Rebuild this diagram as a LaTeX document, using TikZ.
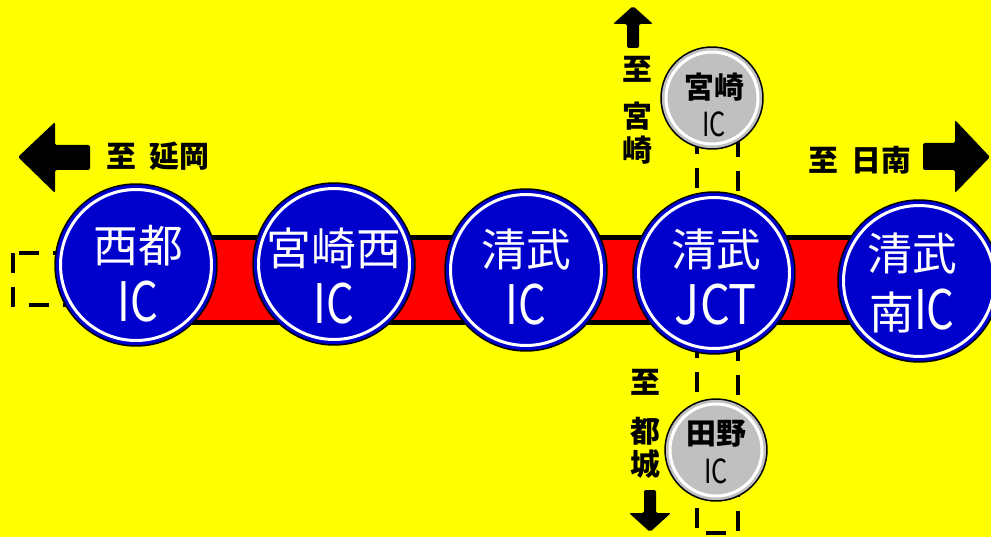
\documentclass[tikz,border=0pt]{standalone}
\usepackage{fontspec}
\setmainfont{Noto Sans CJK JP}
\usetikzlibrary{calc}
\definecolor{signblue}{HTML}{0000CC}
\definecolor{signgray}{HTML}{C0C0C0}
\definecolor{groundyellow}{HTML}{FFFF00}
\newcommand\latin[2][0.8]{{\fontsize{31}{32}\selectfont\scalebox{#1}[1]{#2}}}
\newcommand\latinsmall[1]{{\mdseries\fontsize{18}{20}\selectfont\scalebox{0.8}[1.05]{#1}}}
\tikzstyle{icsign} = [circle, minimum size=3.24cm, inner sep=0pt, fill=signblue, draw=black, line width=0.03cm, path picture={\draw[white, line width=0.06cm] (path picture bounding box.center) circle (1.51cm);}]
\tikzstyle{subsign} = [circle, minimum size=2.04cm, inner sep=0pt, fill=signgray, draw=black, line width=0.03cm, path picture={\draw[white, line width=0.06cm] (path picture bounding box.center) circle (0.92cm);}]
\tikzstyle{icname} = [text=white, align=center, inner sep=0pt, font=\fontsize{25.5}{33.5}\selectfont]
\tikzstyle{subname} = [text=black, align=center, inner sep=0pt, font=\fontsize{17}{22}\selectfont\bfseries]
\tikzstyle{dest} = [text=black, align=center, inner sep=0pt, font=\fontsize{17}{19}\selectfont\bfseries]
\tikzstyle{rampline} = [draw=black, line width=0.08cm, dash pattern=on 0.4cm off 0.28cm]
\tikzstyle{blockarrow} = [fill=black, rounded corners=0.04cm]

\begin{document}
\begin{tikzpicture}[x=0.02cm, y=-0.02cm]
        \useasboundingbox (0,0) rectangle (991,537);
        \clip (0,0) rectangle (991,537);
        \fill[groundyellow] (0,0) rectangle (991,537);

        % dashed ramps
        \draw[rampline] (13,253) rectangle (110,305);
        \draw[rampline] (697,100) rectangle (738,533);

        % main road
        \draw[fill=red, draw=black, line width=0.1cm] (136,237.5) rectangle (919,322.5);

        % interchanges
        \node[icsign] (saito) at (136,265) {};
        \node[icsign] (miyazakinishi) at (334,264) {};
        \node[icsign] (kiyotake) at (526,270) {};
        \node[icsign] (jct) at (714,273) {};
        \node[icsign] (kiyotakeminami) at (919,281) {};

        \node[icname] (saitoname) at (138,274) {西都\\\latin{IC}};
        \node[icname] (miyazakinishiname) at (334,276) {宮崎西\\\latin{IC}};
        \node[icname] (kiyotakename) at (526,277) {清武\\\latin{IC}};
        \node[icname] (jctname) at (716,277) {清武\\\latin[0.86]{JCT}};
        \node[icname] (kiyotakeminaminame) at (912,283) {清武\\南\latin{IC}};

        \node[subsign] (miyazaki) at (712,98) {};
        \node[subsign] (tano) at (716,450) {};
        \node[subname] (miyazakiname) at (714,105) {宮崎\\\latinsmall{IC}};
        \node[subname] (tanoname) at (716,452) {田野\\\latinsmall{IC}};

        % destinations
        \node[dest] (tonobeoka) at (158,156) {至\hspace{0.45em}延岡};
        \node[dest] (tonichinan) at (860,160) {至\hspace{0.45em}日南};
        \node[dest] (tomiyazaki) at (637,110) {至\\[8pt]宮\\崎};
        \node[dest] (tomiyakonojo) at (645,424) {至\\[9pt]都\\城};

        \fill[blockarrow] (18,157) -- (55,122) -- (55,145) -- (90,145) -- (90,170) -- (55,170) -- (55,193) -- cycle;
        \fill[blockarrow] (990,157) -- (955,120) -- (955,143) -- (923,143) -- (923,170) -- (955,170) -- (955,193) -- cycle;
        \fill[blockarrow] (633,6) -- (653,24) -- (639,24) -- (639,48) -- (627,48) -- (627,24) -- (613,24) -- cycle;
        \fill[blockarrow] (650,532) -- (671,513) -- (656,513) -- (656,490) -- (644,490) -- (644,513) -- (629,513) -- cycle;

    \end{tikzpicture}
\end{document}
